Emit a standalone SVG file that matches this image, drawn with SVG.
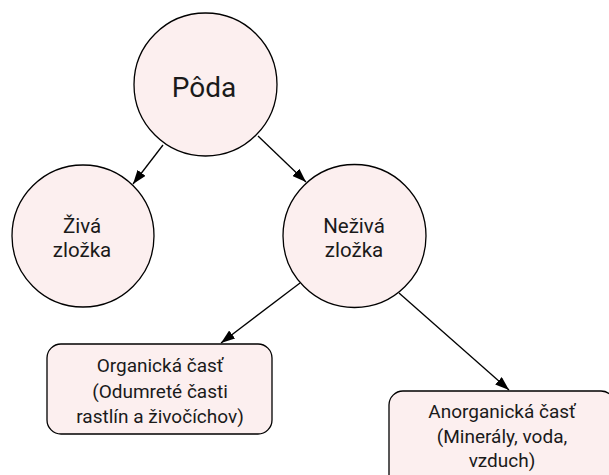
<svg xmlns="http://www.w3.org/2000/svg" width="609" height="475" viewBox="0 0 609 475">
  <style>
    .node { fill: #fcefef; stroke: #000; stroke-width: 1.3; }
    .label { font-family: Roboto, "Open Sans", "Liberation Sans", sans-serif; fill: #1a1a1a; text-anchor: middle; }
    .big { font-size: 28px; }
    .mid { font-size: 20.5px; }
    .small { font-size: 19px; }
    .edge { stroke: #000; stroke-width: 1.3; fill: none; marker-end: url(#arrow); }
  </style>
  <defs>
    <marker id="arrow" viewBox="0 0 14 10" refX="14" refY="5" markerWidth="14" markerHeight="10" markerUnits="userSpaceOnUse" orient="auto">
      <path d="M0,0 L14,5 L0,10 Z" fill="#000"/>
    </marker>
  </defs>
  <rect width="609" height="475" fill="#fff"/>

  <g id="connectors">
    <line class="edge" x1="163" y1="145" x2="133" y2="184"/>
    <line class="edge" x1="258" y1="136" x2="306" y2="182"/>
    <line class="edge" x1="300" y1="283" x2="221" y2="343"/>
    <line class="edge" x1="399" y1="293" x2="509" y2="390"/>
  </g>

  <g id="poda">
    <circle class="node" cx="205.5" cy="84.5" r="71.5"/>
    <text class="label big" x="204" y="97">Pôda</text>
  </g>

  <g id="ziva-zlozka">
    <circle class="node" cx="83" cy="236" r="71"/>
    <text class="label mid" x="82" y="232.5">Živá</text>
    <text class="label mid" x="82" y="257">zložka</text>
  </g>

  <g id="neziva-zlozka">
    <circle class="node" cx="354.5" cy="236" r="71.5"/>
    <text class="label mid" x="354" y="232.5">Neživá</text>
    <text class="label mid" x="354" y="257">zložka</text>
  </g>

  <g id="organicka-cast">
    <rect class="node" x="47" y="344" width="225" height="90" rx="14"/>
    <text class="label small" x="160" y="372">Organická časť</text>
    <text class="label small" x="160" y="398">(Odumreté časti</text>
    <text class="label small" x="160" y="423">rastlín a živočíchov)</text>
  </g>

  <g id="anorganicka-cast">
    <rect class="node" x="389" y="391" width="226" height="100" rx="14"/>
    <text class="label small" x="502" y="418">Anorganická časť</text>
    <text class="label small" x="502" y="443">(Minerály, voda,</text>
    <text class="label small" x="502" y="467">vzduch)</text>
  </g>
</svg>
